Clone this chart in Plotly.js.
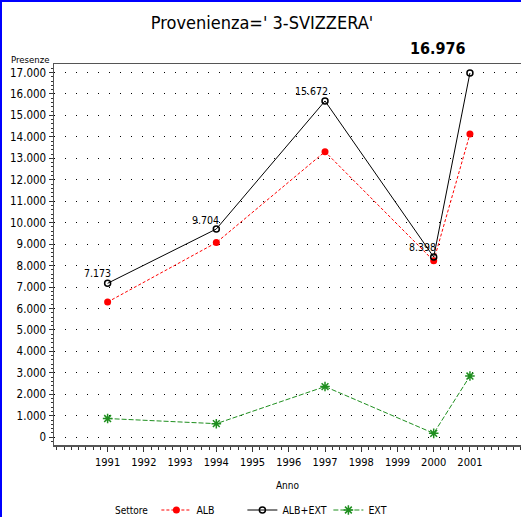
<!DOCTYPE html>
<html>
<head>
<meta charset="utf-8">
<script src="https://cdn.plot.ly/plotly-3.0.1.min.js"></script>
<style>
  html, body { margin: 0; padding: 0; background: #fff; }
  #wrap { position: relative; width: 521px; height: 517px; overflow: hidden; }
  #chart { position: absolute; left: 0; top: 0; width: 521px; height: 517px; }
  #frame { position: absolute; left: 0; top: 0; width: 521px; height: 517px;
           border-left: 2px solid #0000ff; border-top: 2px solid #0000ff;
           box-sizing: border-box; pointer-events: none; }
</style>
</head>
<body>
<div id="wrap"><div id="chart"></div><div id="frame"></div></div>
<script>
// ---- data ----
const years = [1991, 1994, 1997, 2000, 2001];
const alb = [6300, 9070, 13310, 8220, 14130];
const albExt = [7173, 9704, 15672, 8398, 16976];
const ext = [870, 630, 2360, 180, 2850];
const seriesNames = ["ALB", "ALB+EXT", "EXT"];
const xTickVals = [1991, 1992, 1993, 1994, 1995, 1996, 1997, 1998, 1999, 2000, 2001];
const xTickText = ["1991", "1992", "1993", "1994", "1995", "1996", "1997", "1998", "1999", "2000", "2001"];
const yTickVals = [0, 1000, 2000, 3000, 4000, 5000, 6000, 7000, 8000, 9000, 10000, 11000, 12000, 13000, 14000, 15000, 16000, 17000];
const yTickText = ["0", "1.000", "2.000", "3.000", "4.000", "5.000", "6.000", "7.000", "8.000", "9.000", "10.000", "11.000", "12.000", "13.000", "14.000", "15.000", "16.000", "17.000"];

function itFmt(v) {
  return String(v).replace(/\B(?=(\d{3})+(?!\d))/g, ".");
}

const FONT = "'DejaVu Sans Condensed', 'Liberation Sans Narrow', 'Arial Narrow', sans-serif";

const traces = [
  {
    x: years, y: alb, name: seriesNames[0], type: "scatter", mode: "lines+markers",
    line: { color: "#ff0000", width: 1, dash: "3px,2px" },
    marker: { symbol: "circle", size: 7, color: "#ff0000" }
  },
  {
    x: years, y: albExt, name: seriesNames[1], type: "scatter", mode: "lines+markers",
    line: { color: "#000000", width: 1 },
    marker: { symbol: "circle-open", size: 6, color: "#000000", line: { width: 1.5, color: "#000000" } }
  },
  {
    x: years, y: ext, name: seriesNames[2], type: "scatter", mode: "lines+markers",
    line: { color: "#1f8f1f", width: 1, dash: "5px,2px" },
    marker: { symbol: "asterisk-open", size: 8, color: "#1f8f1f", line: { width: 1.5, color: "#1f8f1f" } }
  }
];

const L = 53.5, T = 64, B = 72, W = 521, H = 517;
const plotW = W - L, plotH = H - T - B;

// point label offsets (style only)
const labelShifts = [[-10, 10], [-11, 9], [-14, 10], [-11, 10]];
const annotations = [];
for (let i = 0; i < albExt.length - 1; i++) {
  annotations.push({
    x: years[i], y: albExt[i], xref: "x", yref: "y", text: itFmt(albExt[i]),
    showarrow: false, xshift: labelShifts[i][0], yshift: labelShifts[i][1],
    font: { family: FONT, size: 10.5, color: "#000" }
  });
}
const last = albExt.length - 1;
annotations.push({
  x: years[last], y: albExt[last], xref: "x", yref: "y", text: "<b>" + itFmt(albExt[last]) + "</b>",
  showarrow: false, xshift: -32, yshift: 25,
  font: { family: FONT, size: 16, color: "#000" }
});
annotations.push({
  x: (29 - L) / plotW, y: (H - B - 59) / plotH, xref: "paper", yref: "paper", text: "Presenze",
  showarrow: false, xanchor: "center", yanchor: "middle",
  font: { family: FONT, size: 9.5, color: "#000" }
});
annotations.push({
  x: (131 - L) / plotW, y: -(510 - (H - B)) / plotH, xref: "paper", yref: "paper", text: "Settore",
  showarrow: false, xanchor: "center", yanchor: "middle",
  font: { family: FONT, size: 10, color: "#000" }
});

const layout = {
  width: W, height: H,
  margin: { l: L, r: 0, t: T, b: B, pad: 0, autoexpand: false },
  paper_bgcolor: "#ffffff", plot_bgcolor: "#ffffff",
  showlegend: true,
  title: {
    text: "Provenienza=' 3-SVIZZERA'",
    x: 262 / W, xref: "container", xanchor: "center",
    y: 1 - 23 / H, yref: "container", yanchor: "middle",
    font: { family: FONT, size: 18, color: "#000" }
  },
  xaxis: {
    range: [1989.52, 1989.52 + plotW / 36.27],
    tickvals: xTickVals, ticktext: xTickText,
    ticks: "outside", ticklen: 5, tickcolor: "#333", tickwidth: 1,
    ticklabelstandoff: 1,
    minor: { dtick: 0.2, tick0: 1991, ticks: "outside", ticklen: 3, tickcolor: "#333", showgrid: false },
    showgrid: false, zeroline: false,
    showline: true, linecolor: "#555", linewidth: 1.5, mirror: true,
    tickfont: { family: FONT, size: 11, color: "#000" },
    title: { text: "Anno", standoff: 14, font: { family: FONT, size: 10, color: "#000" } }
  },
  yaxis: {
    range: [-364, 17396],
    tickvals: yTickVals, ticktext: yTickText,
    ticks: "outside", ticklen: 4, tickcolor: "#333", tickwidth: 1,
    minor: { dtick: 200, tick0: 0, ticks: "outside", ticklen: 2, tickcolor: "#333", showgrid: false },
    showgrid: true, gridcolor: "#000", gridwidth: 1, griddash: "1px,10px",
    zeroline: false,
    showline: true, linecolor: "#555", linewidth: 1.5,
    tickfont: { family: FONT, size: 11.5, color: "#000" }
  },
  legend: {
    orientation: "h",
    x: (156 - L) / plotW, xanchor: "left",
    y: -(510 - (H - B)) / plotH, yanchor: "middle",
    font: { family: FONT, size: 10.5, color: "#000" },
    entrywidth: 41, entrywidthmode: "pixels",
    bgcolor: "rgba(0,0,0,0)", borderwidth: 0
  },
  annotations: annotations
};

Plotly.newPlot("chart", traces, layout, { displayModeBar: false, staticPlot: true });
</script>
</body>
</html>
